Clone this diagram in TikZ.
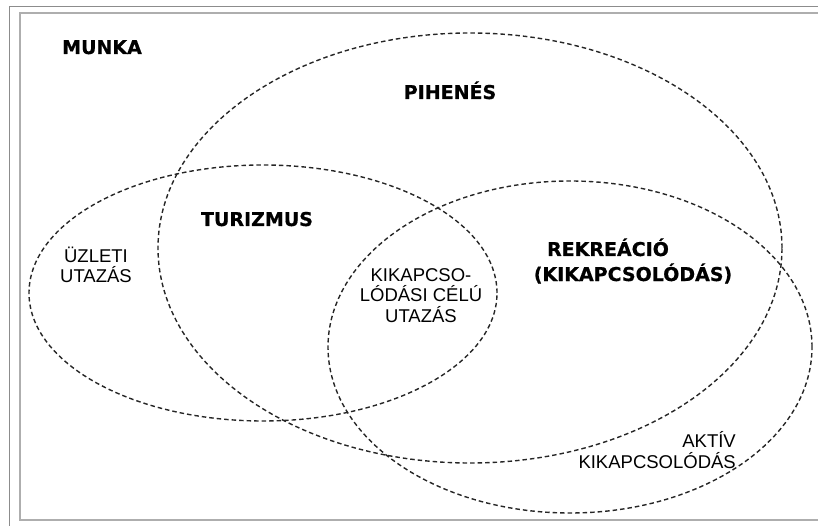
\documentclass[tikz,border=0pt]{standalone}
\usepackage{fontspec}
\setmainfont{Liberation Sans}
\newfontfamily\heavyfont{DejaVu Sans}[FakeBold=0.7]
\definecolor{frameG}{HTML}{8C8C8C}
\definecolor{dashG}{HTML}{262626}

\begin{document}
\begin{tikzpicture}[x=1pt,y=-1pt,
  zone/.style={draw=dashG,line width=1.4pt,dash pattern=on 4.5pt off 3pt},
  big/.style={font=\heavyfont\bfseries\fontsize{19}{21}\selectfont,anchor=base,inner sep=0pt},
  lbl/.style={font=\fontsize{18.5}{20.5}\selectfont,align=center,anchor=base,inner sep=0pt}]
\useasboundingbox (0,0) rectangle (818,526);
\draw[frameG,line width=1pt] (9,526) -- (9,7) -- (818,7);
\draw[frameG!70,line width=1.5pt] (818,13) -- (20,13) -- (20,520) -- (818,520);
\draw[zone] (470,248) ellipse [x radius=312pt,y radius=215pt];
\draw[zone] (263,293) ellipse [x radius=234pt,y radius=128pt];
\draw[zone] (570,347) ellipse [x radius=242pt,y radius=166pt];
\node[big] (munka) at (102,54) {MUNKA};
\node[big] (pihenes) at (450,99) {PIHENÉS};
\node[big] (turizmus) at (257,226) {TURIZMUS};
\node[big] (rekreacio) at (608,256) {REKREÁCIÓ};
\node[big] (kikapcs) at (633,281) {(KIKAPCSOLÓDÁS)};
\node[lbl] (uzleti) at (96,283) {ÜZLETI\\UTAZÁS};
\node[lbl] (celu) at (421,322) {KIKAPCSO-\\LÓDÁSI CÉLÚ\\UTAZÁS};
\node[lbl,align=right,anchor=base east] (aktiv) at (736,468) {AKTÍV\\KIKAPCSOLÓDÁS};
\end{tikzpicture}
\end{document}
